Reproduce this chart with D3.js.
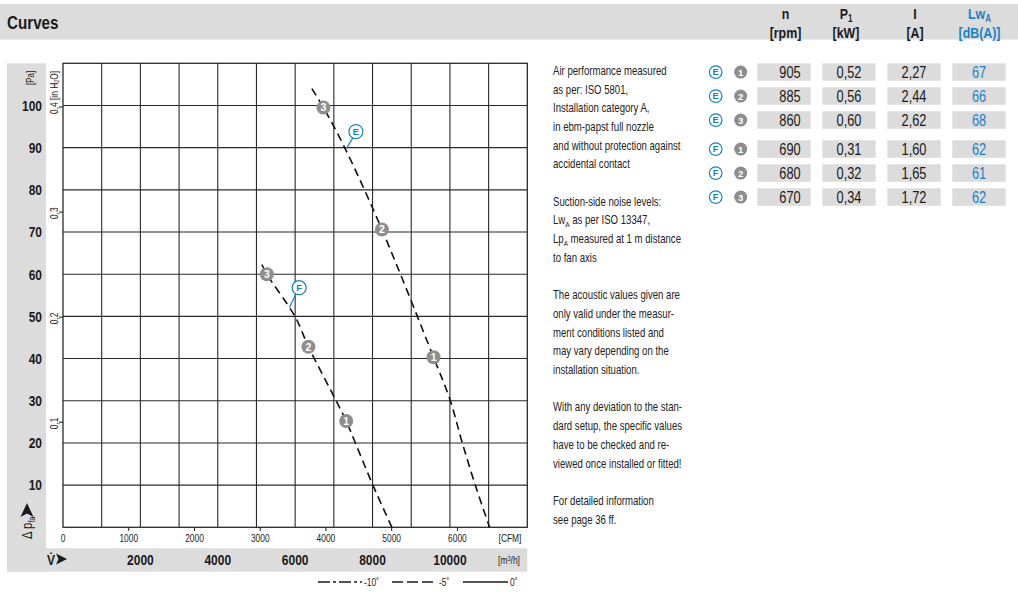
<!DOCTYPE html>
<html><head><meta charset="utf-8">
<script src="https://cdn.jsdelivr.net/npm/d3@7"></script>
<style>
body{margin:0;background:#fff;}
svg{display:block;font-family:'Liberation Sans',Arial,Helvetica,sans-serif;}
</style></head>
<body>
<svg id="c" width="1018" height="604"></svg>
<script>
// ---------- data ----------
const paTicks = [10,20,30,40,50,60,70,80,90,100];
const inH2OTicks = [0.1,0.2,0.3,0.4];
const flowGrid = [1000,2000,3000,4000,5000,6000,7000,8000,9000,10000,11000];
const flowTicks = [2000,4000,6000,8000,10000];
const cfmTicks = [0,1000,2000,3000,4000,5000,6000];

const curveEFlow = [6432,6732,7275,8242,9577,10008,10311,10655,11025];
const curveEPa   = [104.0,99.5,90.1,70.6,40.3,30.1,20.3,10.0,0];
const curveFFlow = [5139,5268,6000,6344,7060,7319,7552,8009,8500];
const curveFPa   = [62.3,60.0,49.9,42.8,30.0,25.2,20.1,10.0,0];

const pointCurve = ['E','E','E','F','F','F'];
const pointNo    = ['1','2','3','1','2','3'];
const pointFlow  = [9577,8242,6732,7319,6344,5268];
const pointPa    = [40.3,70.6,99.5,25.2,42.8,60.0];

const labelName  = ['E','F'];
const labelFlow  = [7570,6103];
const labelPa    = [93.8,56.8];
const anchorFlow = [7333,5852];
const anchorPa   = [89.9,52.1];

const rowCurve = ['E','E','E','F','F','F'];
const rowPoint = ['1','2','3','1','2','3'];
const rowRpm   = ['905','885','860','690','680','670'];
const rowKW    = ['0,52','0,56','0,60','0,31','0,32','0,34'];
const rowA     = ['2,27','2,44','2,62','1,60','1,65','1,72'];
const rowDBA   = ['67','66','68','62','61','62'];

const notes = [
 ['Air performance measured','as per: ISO 5801,','Installation category A,','in ebm-papst full nozzle','and without protection against','accidental contact'],
 ['Suction-side noise levels:','Lw_A as per ISO 13347,','Lp_A measured at 1 m distance','to fan axis'],
 ['The acoustic values given are','only valid under the measur-','ment conditions listed and','may vary depending on the','installation situation.'],
 ['With any deviation to the stan-','dard setup, the specific values','have to be checked and re-','viewed once installed or fitted!'],
 ['For detailed information','see page 36 ff.']
];

// ---------- helpers ----------
const SX = 0.8;
const val = (f,d,i)=> typeof f==='function' ? f(d,i) : f;
function place(sel, fx, fy, rot, sx){
  const s = sx===undefined ? SX : sx;
  return sel.attr('transform',(d,i)=>`translate(${val(fx,d,i)},${val(fy,d,i)})${rot?` rotate(${rot})`:''} scale(${s},1)`);
}

// ---------- drawing ----------
const svg = d3.select('#c');
const GRAY = '#dcdcdc', BLUE = '#1a82c4', DARK = '#1a1a1a', MARK = '#8e8e8e';
const x = d3.scaleLinear().domain([0,12000]).range([63,527.3]);
const y = d3.scaleLinear().domain([0,110]).range([527.3,63.3]);
const xCfm = d3.scaleLinear().domain([0,12000/1.699]).range([63,527.3]);

// header
svg.append('rect').attr('x',0).attr('y',4).attr('width',1018).attr('height',35.5).attr('fill',GRAY);
place(svg.append('text').attr('font-size',19).attr('font-weight','bold').attr('fill',DARK).text('Curves'),7,28.5);
const hdrX = [785.5,846,915,979.5];
const hdr = svg.append('g').attr('font-size',15.5).attr('font-weight','bold').attr('text-anchor','middle');
const H = (xx,yy,col)=>place(hdr.append('text').attr('fill',col),xx,yy);
H(hdrX[0],19,DARK).text('n');
H(hdrX[0],37.5,DARK).text('[rpm]');
let t = H(hdrX[1],19,DARK);
t.append('tspan').text('P'); t.append('tspan').attr('font-size',10).attr('dy',3).text('1');
H(hdrX[1],37.5,DARK).text('[kW]');
H(hdrX[2],19,DARK).text('I');
H(hdrX[2],37.5,DARK).text('[A]');
t = H(hdrX[3],19,BLUE);
t.append('tspan').text('Lw'); t.append('tspan').attr('font-size',10).attr('dy',3).text('A');
H(hdrX[3],37.5,BLUE).text('[dB(A)]');

// gray side bands
svg.append('rect').attr('x',7).attr('y',63.3).attr('width',39).attr('height',508.4).attr('fill',GRAY);
svg.append('rect').attr('x',7).attr('y',548.3).attr('width',520.3).attr('height',23.4).attr('fill',GRAY);

// grid
const grid = svg.append('g').attr('stroke','#2a2a2a').attr('stroke-width',1.1);
grid.selectAll('.v').data(flowGrid).join('line')
  .attr('x1',d=>x(d)).attr('x2',d=>x(d)).attr('y1',y(110)).attr('y2',y(0));
grid.selectAll('.h').data(paTicks).join('line')
  .attr('x1',x(0)).attr('x2',x(12000)).attr('y1',d=>y(d)).attr('y2',d=>y(d));
grid.append('rect').attr('x',x(0)).attr('y',y(110)).attr('width',x(12000)-x(0)).attr('height',y(0)-y(110))
  .attr('fill','none').attr('stroke-width',1.3);

// Pa labels
place(svg.append('g').attr('font-size',15).attr('font-weight','bold').attr('text-anchor','end').attr('fill',DARK)
  .selectAll('text').data(paTicks).join('text').text(d=>d), 42, d=>y(d)+5.3);
place(svg.append('text').attr('font-size',10).attr('fill',DARK).attr('text-anchor','middle').text('[Pa]'),33.5,78,-90);

// in H2O ticks
const ih = svg.append('g');
ih.selectAll('line').data(inH2OTicks).join('line')
  .attr('x1',59).attr('x2',63).attr('y1',d=>y(d*249.089)).attr('y2',d=>y(d*249.089))
  .attr('stroke',DARK).attr('stroke-width',1);
place(ih.selectAll('text').data(inH2OTicks).join('text')
  .attr('font-size',10.5).attr('fill',DARK), 57.8, d=>y(d*249.089)+7, -90)
  .each(function(d){
    const s = d3.select(this);
    s.append('tspan').text(String(d).replace('.',','));
    if(d===0.4){
      s.append('tspan').text(' [in H');
      s.append('tspan').attr('font-size',6.5).attr('dy',1.5).text('2');
      s.append('tspan').attr('dy',-1.5).text('O]');
    }
  });

// Δ p_fa label
t = place(svg.append('text').attr('font-size',14).attr('fill',DARK),32,539,-90);
t.append('tspan').text('Δ p');
t.append('tspan').attr('font-size',9.5).attr('dy',3).text('fa');
svg.append('path').attr('d',`M27,503 L33.5,517 L27,513.5 L20.5,517 Z`).attr('fill',DARK);

// CFM axis
const cfm = svg.append('g');
cfm.selectAll('line').data(cfmTicks.slice(1)).join('line')
  .attr('x1',d=>xCfm(d)).attr('x2',d=>xCfm(d)).attr('y1',527.3).attr('y2',531)
  .attr('stroke',DARK);
place(cfm.selectAll('text').data(cfmTicks).join('text')
  .attr('font-size',10.5).attr('fill',DARK).attr('text-anchor','middle').text(d=>d), d=>xCfm(d), 542);
place(svg.append('text').attr('font-size',10.5).attr('fill',DARK).attr('text-anchor','middle').text('[CFM]'),510,542);

// m3/h axis
place(svg.append('g').attr('font-size',15).attr('font-weight','bold').attr('fill',DARK).attr('text-anchor','middle')
  .selectAll('text').data(flowTicks).join('text').text(d=>d), d=>x(d), 565);
t = place(svg.append('text').attr('font-size',10.5).attr('fill',DARK).attr('text-anchor','middle'),509,564);
t.append('tspan').text('[m'); t.append('tspan').attr('font-size',7).attr('dy',-3).text('3');
t.append('tspan').attr('dy',3).text('/h]');
place(svg.append('text').attr('font-size',15).attr('font-weight','bold').attr('fill',DARK).text('V̇'),47,565);
svg.append('path').attr('d','M56,553.5 L67,559 L56,564.5 L58.5,559 Z').attr('fill',DARK);

// curves
const line = d3.line().x(d=>x(d[0])).y(d=>y(d[1])).curve(d3.curveCatmullRom.alpha(0.5));
const curves = [d3.zip(curveEFlow,curveEPa), d3.zip(curveFFlow,curveFPa)];
svg.append('g').selectAll('path').data(curves).join('path')
  .attr('d',line).attr('fill','none').attr('stroke','#111').attr('stroke-width',1.6)
  .attr('stroke-dasharray','8,5');

// operating points
const pts = svg.append('g').selectAll('g').data(d3.range(pointNo.length)).join('g')
  .attr('transform',i=>`translate(${x(pointFlow[i])},${y(pointPa[i])})`);
pts.append('circle').attr('r',7).attr('fill',MARK);
pts.append('text').attr('text-anchor','middle').attr('y',3.8).attr('font-size',10.5).attr('font-weight','bold')
  .attr('fill','#fff').text(i=>pointNo[i]);

// curve labels
const lbl = svg.append('g').selectAll('g').data(d3.range(labelName.length)).join('g');
lbl.append('line').attr('x1',i=>x(anchorFlow[i])).attr('y1',i=>y(anchorPa[i]))
  .attr('x2',i=>x(labelFlow[i])-3).attr('y2',i=>y(labelPa[i])+6).attr('stroke',BLUE).attr('stroke-width',1.2);
lbl.append('circle').attr('cx',i=>x(labelFlow[i])).attr('cy',i=>y(labelPa[i])).attr('r',7)
  .attr('fill','#fff').attr('stroke',BLUE).attr('stroke-width',1.2);
lbl.append('text').attr('x',i=>x(labelFlow[i])).attr('y',i=>y(labelPa[i])+3.5).attr('text-anchor','middle')
  .attr('font-size',9.5).attr('font-weight','bold').attr('fill',BLUE).text(i=>labelName[i]);

// legend
const lg = svg.append('g').attr('stroke',DARK).attr('stroke-width',1.5);
lg.append('line').attr('x1',318).attr('x2',362).attr('y1',582).attr('y2',582).attr('stroke-dasharray','12,3,3,3');
lg.append('line').attr('x1',392).attr('x2',437).attr('y1',582).attr('y2',582).attr('stroke-dasharray','11,4');
lg.append('line').attr('x1',463).attr('x2',508).attr('y1',582).attr('y2',582);
const lgt = svg.append('g').attr('font-size',10.5).attr('fill',DARK);
place(lgt.append('text').text('-10˚'),364,586);
place(lgt.append('text').text('-5˚'),439,586);
place(lgt.append('text').text('0˚'),510,586);

// notes
const nt = svg.append('g').attr('font-size',12).attr('fill','#222');
let ly = 74.8;
notes.forEach(par=>{
  par.forEach(s=>{
    const tx = place(nt.append('text'),553,ly);
    const m = s.match(/^(\w+)_A(.*)$/);
    if(m){
      tx.append('tspan').text(m[1]);
      tx.append('tspan').attr('font-size',8).attr('dy',2.5).text('A');
      tx.append('tspan').attr('dy',-2.5).text(m[2]);
    } else tx.text(s);
    ly += 18.7;
  });
  ly += 18.7;
});

// table
const cellX = [757.3,822.3,887.3,952.3], cellW = 53.4;
const rows = svg.append('g').selectAll('g').data(d3.range(rowRpm.length)).join('g')
  .attr('transform',i=>`translate(0,${63.3 + i*24 + (i>=3?5:0)})`);
cellX.forEach(cx=>{
  rows.append('rect').attr('x',cx).attr('y',0).attr('width',cellW).attr('height',17.5).attr('fill',GRAY);
});
rows.append('circle').attr('cx',715.7).attr('cy',8.8).attr('r',6.3).attr('fill','#fff').attr('stroke',BLUE).attr('stroke-width',1.2);
rows.append('text').attr('x',715.7).attr('y',12.2).attr('text-anchor','middle').attr('font-size',9.5).attr('font-weight','bold').attr('fill',BLUE).text(i=>rowCurve[i]);
rows.append('circle').attr('cx',740.7).attr('cy',8.8).attr('r',6.5).attr('fill',MARK);
rows.append('text').attr('x',740.7).attr('y',12.3).attr('text-anchor','middle').attr('font-size',9.5).attr('font-weight','bold').attr('fill','#fff').text(i=>rowPoint[i]);
const cellText = (cx,arr,col)=>place(rows.append('text').attr('text-anchor','middle')
  .attr('font-size',16).attr('fill',col).text(i=>arr[i]), cx, 14.6);
cellText(790,rowRpm,DARK);
cellText(849,rowKW,DARK);
cellText(914,rowA,DARK);
cellText(979,rowDBA,BLUE);
</script>
</body></html>
